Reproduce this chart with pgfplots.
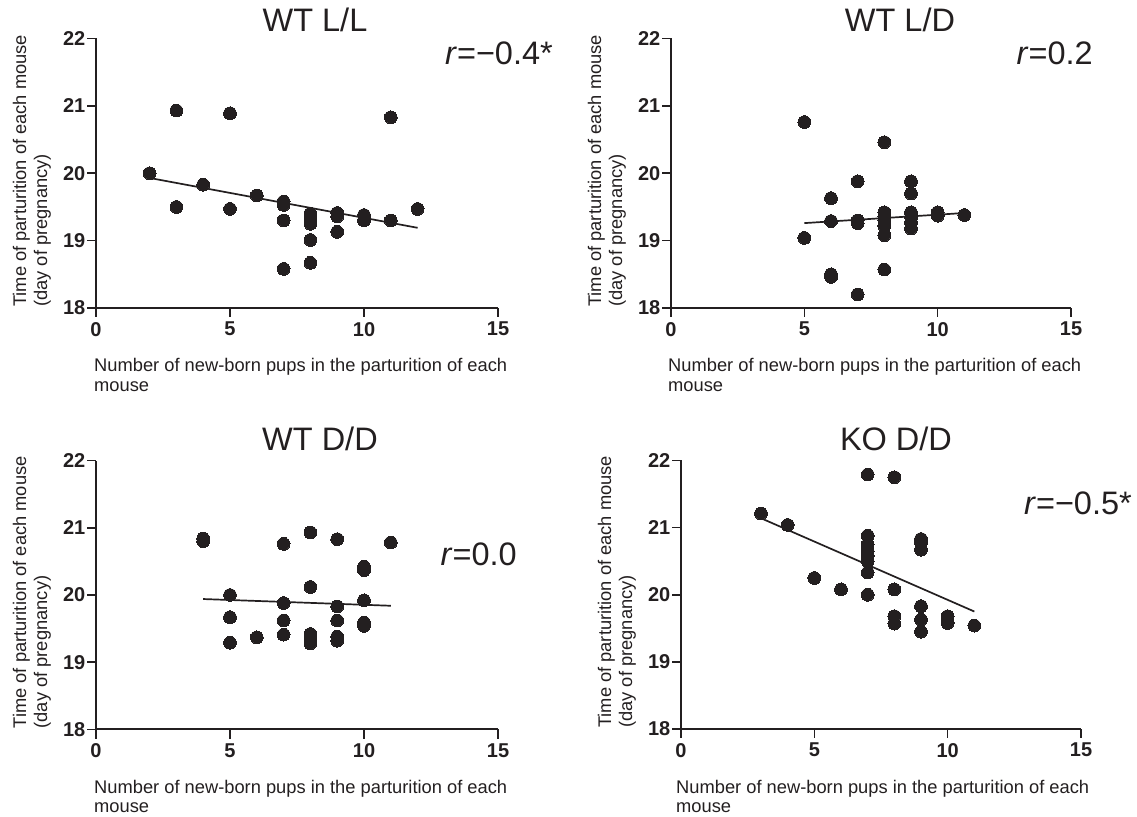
\documentclass[border=0pt]{standalone}
\usepackage{fontspec}
\setmainfont{Liberation Sans}
\usepackage{pgfplots}
\pgfplotsset{compat=1.18}
\definecolor{dot}{HTML}{231F20}
\pgfplotsset{prism/.style={
  scale only axis, width=402pt, height=269.5pt,
  xmin=0, xmax=15, ymin=18, ymax=22,
  xtick={0,5,10,15}, ytick={18,19,20,21,22},
  axis x line*=bottom, axis y line*=left,
  axis line style={line width=2pt, -, dot},
  every tick/.style={line width=1.6pt, dot},
  major tick length=9pt, tick align=outside,
  ticklabel style={font=\fontsize{20}{20}\selectfont\bfseries, text=dot},
  yticklabel style={inner sep=1.5pt},
  xticklabel style={inner sep=2pt, yshift=-3pt},
  /pgf/number format/assume math mode=true,
  clip=false,
  anchor=south west,
}}
\tikzset{
  pts/.style={only marks, mark=*, mark size=6.4pt, mark options={fill=dot, draw=dot, line width=0pt}},
  reg/.style={line width=1.7pt, dot, no marks},
  tit/.style={font=\fontsize{32.5}{32.5}\selectfont, text=dot, anchor=base, inner sep=0pt},
  rl/.style={font=\fontsize{32.5}{32.5}\selectfont, text=dot, anchor=base east, inner sep=0pt},
  xl/.style={font=\fontsize{18.3}{20}\selectfont, text=dot, anchor=base west, align=left, inner sep=0pt},
  yl/.style={font=\fontsize{18.3}{20}\selectfont, text=dot, anchor=base west, rotate=90, inner sep=0pt},
}
\begin{document}
\begin{tikzpicture}[x=1pt,y=1pt]
\path[use as bounding box] (0,0) rectangle (1137,816);
% Panel 1
\begin{axis}[prism, at={(96pt,508pt)}]
\addplot[pts] coordinates {(2,20.00) (3,20.93) (3,19.50) (4,19.83) (5,20.89) (5,19.47) (6,19.67) (7,19.58) (7,19.53) (7,19.30) (7,18.58) (8,19.40) (8,19.35) (8,19.30) (8,19.25) (8,19.01) (8,18.67) (9,19.41) (9,19.36) (9,19.13) (10,19.38) (10,19.30) (11,20.83) (11,19.30) (12,19.47)};
\addplot[reg] coordinates {(2,19.93) (12,19.19)};
\end{axis}
% Panel 2
\begin{axis}[prism, width=400pt, at={(671pt,508pt)}]
\addplot[pts] coordinates {(5,20.76) (5,19.04) (6,19.63) (6,19.29) (6,18.50) (6,18.46) (7,19.88) (7,19.30) (7,19.26) (7,18.20) (8,20.46) (8,19.42) (8,19.36) (8,19.30) (8,19.22) (8,19.08) (8,18.57) (9,19.88) (9,19.70) (9,19.42) (9,19.35) (9,19.27) (9,19.18) (10,19.42) (10,19.37) (11,19.38)};
\addplot[reg] coordinates {(5,19.26) (11,19.41)};
\end{axis}
% Panel 3
\begin{axis}[prism, height=269pt, at={(96pt,86.5pt)}]
\addplot[pts] coordinates {(4,20.84) (4,20.80) (5,20.00) (5,19.67) (5,19.29) (6,19.37) (7,20.76) (7,19.88) (7,19.62) (7,19.41) (8,20.93) (8,20.12) (8,19.42) (8,19.33) (8,19.28) (9,20.83) (9,19.83) (9,19.62) (9,19.38) (9,19.32) (10,20.42) (10,20.37) (10,19.92) (10,19.59) (10,19.54) (11,20.78)};
\addplot[reg] coordinates {(4,19.94) (11,19.84)};
\end{axis}
% Panel 4
\begin{axis}[prism, width=400pt, height=268.5pt, at={(681pt,87pt)}]
\addplot[pts] coordinates {(3,21.21) (4,21.04) (5,20.25) (6,20.08) (7,21.79) (7,20.88) (7,20.75) (7,20.65) (7,20.58) (7,20.50) (7,20.33) (7,20.00) (8,21.75) (8,20.08) (8,19.68) (8,19.57) (9,20.83) (9,20.78) (9,20.67) (9,19.83) (9,19.63) (9,19.45) (10,19.68) (10,19.58) (11,19.54)};
\addplot[reg] coordinates {(3,21.14) (11,19.75)};
\end{axis}
% Titles
\node[tit] at (315,784) {WT L/L};
\node[tit] at (900,784) {WT L/D};
\node[tit] at (320,365) {WT D/D};
\node[tit] at (896,365) {KO D/D};
% r labels
\node[rl] at (553,751) {\textit{r}=−0.4*};
\node[rl] at (1093,751) {\textit{r}=0.2};
\node[rl] at (517,250) {\textit{r}=0.0};
\node[rl] at (1132,301) {\textit{r}=−0.5*};
% x labels
\node[xl] at (94,424) {Number of new-born pups in the parturition of each\\mouse};
\node[xl] at (668,424) {Number of new-born pups in the parturition of each\\mouse};
\node[xl] at (94,3) {Number of new-born pups in the parturition of each\\mouse};
\node[xl] at (676,3) {Number of new-born pups in the parturition of each\\mouse};
% y labels
\node[yl] at (26,509) {Time of parturition of each mouse};
\node[yl] at (47,509) {(day of pregnancy)};
\node[yl] at (601,509) {Time of parturition of each mouse};
\node[yl] at (622,509) {(day of pregnancy)};
\node[yl] at (26,87.5) {Time of parturition of each mouse};
\node[yl] at (47,87.5) {(day of pregnancy)};
\node[yl] at (611,88) {Time of parturition of each mouse};
\node[yl] at (632,88) {(day of pregnancy)};
\end{tikzpicture}
\end{document}
